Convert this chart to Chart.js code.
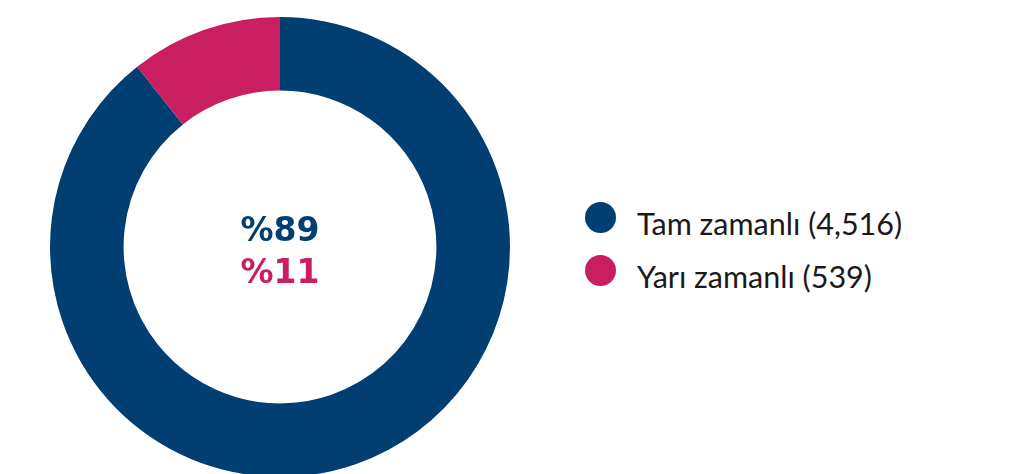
<!DOCTYPE html>
<html>
<head>
<meta charset="utf-8">
<script src="https://cdn.jsdelivr.net/npm/chart.js@4/dist/chart.umd.min.js"></script>
<style>
  html, body { margin: 0; padding: 0; background: #fff; width: 1015px; height: 474px; overflow: hidden; position: relative; font-family: Lato, "Open Sans", sans-serif; }
  #wrap { position: absolute; left: 50px; top: 17px; width: 460px; height: 460px; }
  #center { position: absolute; left: 50px; top: 17px; width: 460px; height: 460px; pointer-events: none; }
  .pct { position: absolute; left: 0; width: 100%; text-align: center; font-family: "DejaVu Sans", sans-serif; font-weight: bold; font-size: 33px; line-height: 1; }
  #legend { position: absolute; left: 585px; top: 202px; width: 420px; height: 120px; }
  .item { position: absolute; left: 0; height: 40px; width: 420px; }
  .dot { position: absolute; left: 0; top: 0; width: 31px; height: 31px; border-radius: 50%; }
  .lab { position: absolute; left: 52px; top: 6px; font-size: 30.5px; line-height: 1; color: #1a1a1a; white-space: nowrap; }
</style>
</head>
<body>
<div id="wrap"><canvas id="c"></canvas></div>
<div id="center"></div>
<div id="legend"></div>
<script>
const categories = ["Tam zamanlı", "Yarı zamanlı"];
const counts = [4516, 539];
const colors = ["#013f72", "#c91e60"];

const total = counts.reduce((a, b) => a + b, 0);
const pcts = counts.map(v => Math.round(v / total * 100));

new Chart(document.getElementById("c"), {
  type: "doughnut",
  data: {
    labels: categories,
    datasets: [{ data: counts, backgroundColor: colors, borderWidth: 0 }]
  },
  options: {
    responsive: true,
    maintainAspectRatio: false,
    animation: false,
    cutout: "68%",
    layout: { padding: 0 },
    plugins: { legend: { display: false }, tooltip: { enabled: false } }
  }
});

const center = document.getElementById("center");
const tops = [196, 238];
pcts.forEach((p, i) => {
  const d = document.createElement("div");
  d.className = "pct";
  d.style.top = tops[i] + "px";
  d.style.color = colors[i];
  d.textContent = "%" + p;
  center.appendChild(d);
});

const legend = document.getElementById("legend");
categories.forEach((c, i) => {
  const it = document.createElement("div");
  it.className = "item";
  it.style.top = (53 * i) + "px";
  const dot = document.createElement("span");
  dot.className = "dot";
  dot.style.background = colors[i];
  const t = document.createElement("span");
  t.className = "lab";
  t.textContent = c + " (" + counts[i].toLocaleString("en-US") + ")";
  it.appendChild(dot);
  it.appendChild(t);
  legend.appendChild(it);
});
</script>
</body>
</html>
